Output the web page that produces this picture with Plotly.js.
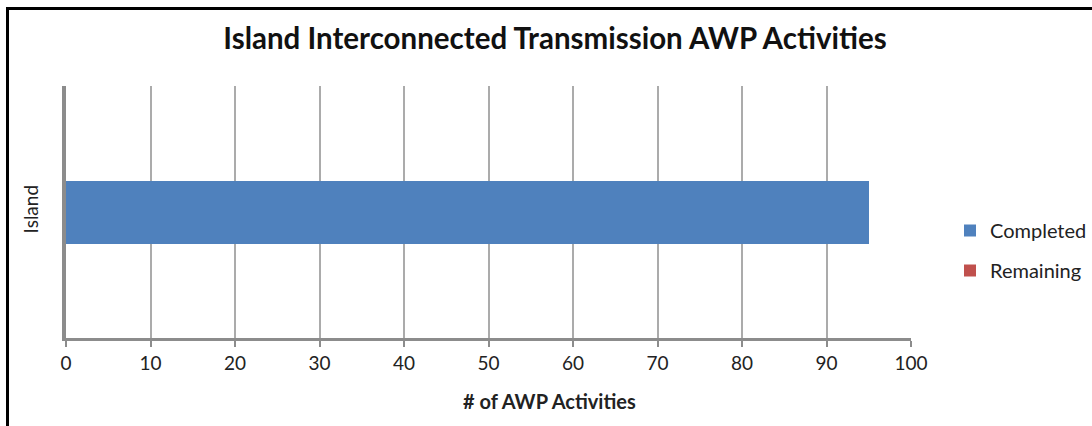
<!DOCTYPE html>
<html>
<head>
<meta charset="utf-8">
<script src="https://cdn.plot.ly/plotly-3.0.1.min.js"></script>
<style>
html,body{margin:0;padding:0;background:#fff;}
#wrap{position:relative;width:1092px;height:426px;overflow:hidden;}
#chart{width:1092px;height:426px;}
#frameTop{position:absolute;left:6px;top:7px;width:1086px;height:3px;background:#000;pointer-events:none;}
#frameLeft{position:absolute;left:6px;top:7px;width:3px;height:419px;background:#000;pointer-events:none;}
</style>
</head>
<body>
<div id="wrap">
<div id="chart"></div>
<div id="frameTop"></div>
<div id="frameLeft"></div>
</div>
<script>
const categories = ["Island"];
const completed = [95];
const remaining = [0];
const seriesNames = ["Completed", "Remaining"];
const seriesColors = ["#4F81BD", "#C0504D"];
const xTicks = [0, 10, 20, 30, 40, 50, 60, 70, 80, 90, 100];
const xAxisTitle = "# of AWP Activities";

const font = "Lato, 'Open Sans', sans-serif";
const traces = [completed, remaining].map((vals, i) => ({
  type: "bar",
  orientation: "h",
  y: categories,
  x: vals,
  name: seriesNames[i],
  legendgroup: "g" + i,
  marker: {color: seriesColors[i], line: {width: 0}},
  hoverinfo: "x+name"
}));

const layout = {
  width: 1092, height: 426,
  margin: {l: 66, r: 181, t: 86, b: 88, autoexpand: false},
  paper_bgcolor: "#fff", plot_bgcolor: "#fff",
  barmode: "stack",
  bargap: 0.75,
  title: {
    text: "<b>Island Interconnected Transmission AWP Activities</b>",
    font: {family: font, size: 29.5, color: "#111"},
    xref: "container", x: 555/1092, xanchor: "center",
    yref: "container", y: 1 - 39/426, yanchor: "middle"
  },
  xaxis: {
    range: [0, 100],
    tickvals: xTicks,
    ticktext: xTicks.map(String),
    showgrid: true, gridcolor: "#ababab", gridwidth: 2,
    zeroline: false,
    showline: true, linecolor: "#8c8c8c", linewidth: 3,
    ticks: "outside", ticklen: 6, tickwidth: 2, tickcolor: "#8c8c8c",
    tickfont: {family: font, size: 19, color: "#222"},
    fixedrange: true
  },
  yaxis: {
    showgrid: false, zeroline: false,
    showline: true, linecolor: "#8c8c8c", linewidth: 4,
    ticks: "", tickangle: -90,
    ticklabelstandoff: 16,
    tickfont: {family: font, size: 19, color: "#222"},
    fixedrange: true
  },
  annotations: [{
    text: "<b>" + xAxisTitle + "</b>",
    xref: "paper", yref: "paper",
    x: (549 - 66) / 845, y: -(401 - 338) / 252,
    xanchor: "center", yanchor: "middle",
    showarrow: false,
    font: {family: font, size: 20, color: "#222"}
  }],
  legend: {
    xref: "container", yref: "container",
    x: 950/1092, xanchor: "left", y: 1 - 211/426, yanchor: "top",
    font: {family: font, size: 20, color: "#222"},
    traceorder: "grouped", tracegroupgap: 11,
    itemwidth: 30, bgcolor: "rgba(0,0,0,0)"
  },
  showlegend: true
};

Plotly.newPlot("chart", traces, layout, {displayModeBar: false, staticPlot: true});
</script>
</body>
</html>
